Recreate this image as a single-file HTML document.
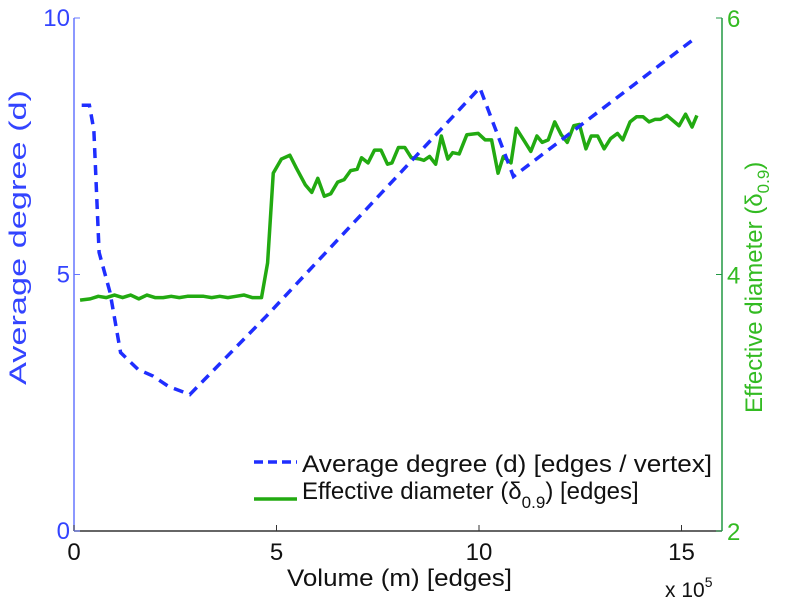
<!DOCTYPE html>
<html><head><meta charset="utf-8"><style>
body{margin:0;background:#fff}
svg{display:block;font-family:"Liberation Sans",sans-serif}
</style></head><body>
<svg id="chart" width="785" height="600" viewBox="0 0 785 600">
<g id="axes"></g><g id="marks"></g>
<g>
 <line x1="254" y1="462" x2="297" y2="462" stroke="#1f2eff" stroke-width="3.5" stroke-dasharray="9 5"/>
 <text x="302" y="472" font-size="24" textLength="410" lengthAdjust="spacingAndGlyphs" fill="#111">Average degree (d) [edges / vertex]</text>
 <line x1="254" y1="499" x2="297" y2="499" stroke="#22aa11" stroke-width="3.5"/>
 <text x="302" y="499" font-size="24" fill="#111">Effective diameter (δ<tspan font-size="17" dy="9">0.9</tspan><tspan dy="-9">) [edges]</tspan></text>
</g>
<text x="287" y="586" font-size="24" textLength="225" lengthAdjust="spacingAndGlyphs" fill="#111">Volume (m) [edges]</text>
<text x="665" y="597" font-size="21" fill="#111">x 10<tspan font-size="14" dy="-10">5</tspan></text>
<text transform="translate(26,385) rotate(-90)" font-size="24" textLength="295" lengthAdjust="spacingAndGlyphs" fill="#3344ff">Average degree (d)</text>
<text transform="translate(762,413) rotate(-90)" font-size="24" fill="#33bb22">Effective diameter (δ<tspan font-size="17" dy="7">0.9</tspan><tspan dy="-7">)</tspan></text>
</svg>
<script>
const xTicks=[0,5,10,15];
const leftTicks=[0,5,10];
const rightTicks=[2,4,6];
const degX=[0.19,0.38,0.49,0.62,0.89,1.15,1.58,1.95,2.33,2.86,4.74,10.02,10.85,15.34];
const degY=[8.3,8.3,7.82,5.43,4.65,3.48,3.15,3.02,2.82,2.66,4.18,8.64,6.91,9.61];
const diaX=[0.15,0.4,0.6,0.8,1.0,1.2,1.4,1.6,1.8,2.0,2.2,2.4,2.6,2.8,3.0,3.2,3.4,3.6,3.8,4.0,4.2,4.4,4.55,4.63,4.78,4.92,5.12,5.33,5.49,5.71,5.87,6.02,6.18,6.34,6.51,6.67,6.83,6.99,7.10,7.26,7.42,7.58,7.74,7.85,8.01,8.17,8.33,8.54,8.64,8.78,8.93,9.07,9.23,9.35,9.51,9.70,9.98,10.15,10.31,10.47,10.60,10.79,10.92,11.12,11.28,11.43,11.56,11.71,11.87,12.03,12.18,12.34,12.48,12.64,12.77,12.93,13.09,13.25,13.42,13.55,13.73,13.89,14.05,14.20,14.35,14.48,14.64,14.94,15.10,15.26,15.38];
const diaY=[3.80,3.81,3.83,3.82,3.84,3.82,3.84,3.81,3.84,3.82,3.82,3.83,3.82,3.83,3.83,3.83,3.82,3.83,3.82,3.83,3.84,3.82,3.82,3.82,4.09,4.79,4.90,4.93,4.83,4.70,4.64,4.75,4.61,4.63,4.72,4.74,4.81,4.82,4.91,4.87,4.97,4.97,4.86,4.87,4.99,4.99,4.91,4.90,4.89,4.92,4.86,5.08,4.90,4.95,4.94,5.09,5.10,5.05,5.05,4.79,4.92,4.87,5.14,5.04,4.96,5.08,5.03,5.05,5.19,5.09,5.03,5.16,5.17,4.98,5.08,5.08,4.98,5.06,5.10,5.05,5.19,5.23,5.23,5.19,5.21,5.21,5.24,5.16,5.25,5.15,5.24];
const L=74,R=722,T=18,B=531;
const sx=v=>L+(v-0)/(16-0)*(R-L);
const syL=v=>B-(v-0)/(10-0)*(B-T);
const syR=v=>B-(v-2)/(6-2)*(B-T);
const NS="http://www.w3.org/2000/svg";
function mk(tag,attrs,parent,text){const e=document.createElementNS(NS,tag);for(const k in attrs)e.setAttribute(k,attrs[k]);if(text!==undefined)e.textContent=text;parent.appendChild(e);return e;}
const ax=document.getElementById('axes'),mg=document.getElementById('marks');
let e;
e=mk('line',{x1:L,y1:B,x2:R,y2:B,stroke:'#333','stroke-width':1.5},ax);


e=mk('line',{x1:L,y1:T,x2:L,y2:B,stroke:'#6677ff','stroke-width':1.5},ax);


e=mk('line',{x1:R,y1:T,x2:R,y2:B,stroke:'#229944','stroke-width':1.5},ax);


xTicks.forEach(t=>{
 e=mk('line',{x1:sx(t),y1:B,x2:sx(t),y2:B-6,stroke:'#333'},ax);
 
 
 e=mk('text',{x:sx(t),y:B+29,'font-size':24,'text-anchor':'middle',fill:'#111'},ax,String(t));
 
 
});
leftTicks.forEach(t=>{
 e=mk('line',{x1:L,y1:syL(t),x2:L+6,y2:syL(t),stroke:'#6677ff'},ax);
 
 
 e=mk('text',{x:L-4,y:syL(t)+8,'font-size':24,'text-anchor':'end',fill:'#3344ff'},ax,String(t));
 
 
});
rightTicks.forEach(t=>{
 e=mk('line',{x1:R,y1:syR(t),x2:R-6,y2:syR(t),stroke:'#229944'},ax);
 
 
 e=mk('text',{x:R+5,y:syR(t)+9,'font-size':24,fill:'#33bb22'},ax,String(t));
 
 
});
e=mk('polyline',{points:diaX.map((x,i)=>sx(x)+','+syR(diaY[i])).join(' '),fill:'none',stroke:'#22aa11','stroke-width':3.5,'stroke-linejoin':'round'},mg);


e=mk('polyline',{points:degX.map((x,i)=>sx(x)+','+syL(degY[i])).join(' '),fill:'none',stroke:'#1f2eff','stroke-width':3.5,'stroke-dasharray':'10 7'},mg);


</script>
</body></html>
